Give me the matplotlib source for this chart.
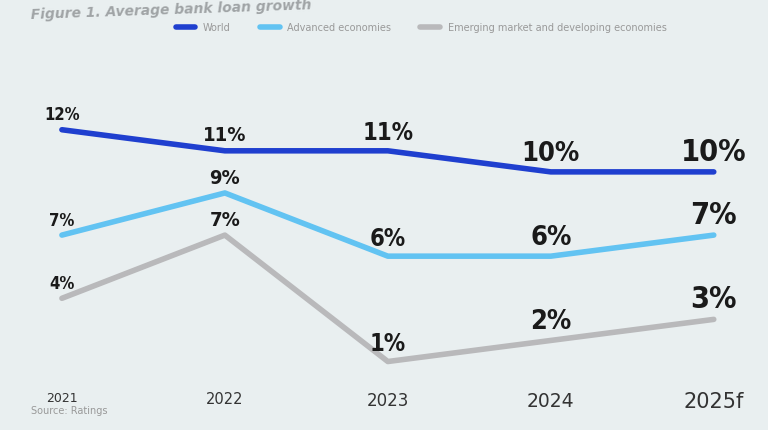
import matplotlib
matplotlib.use("Agg")
import matplotlib.pyplot as plt

years = ["2021", "2022", "2023", "2024", "2025f"]
world = [12, 11, 11, 10, 10]
advanced = [7, 9, 6, 6, 7]
emerging = [4, 7, 1, 2, 3]

series = [
    ("World", world, "#1f3fcf"),
    ("Advanced economies", advanced, "#62c3f2"),
    ("Emerging market and developing economies", emerging, "#b9b9bb"),
]

fig = plt.figure(figsize=(7.68, 4.31), dpi=100)
fig.patch.set_facecolor("#e9eff0")
ax = fig.add_axes([0.07, 0.11, 0.87, 0.66])
ax.set_facecolor("#e9eff0")

x = list(range(len(years)))
for name, vals, col in series:
    ax.plot(x, vals, color=col, lw=4, solid_capstyle="round", label=name)
    for i, v in enumerate(vals):
        size = 12 + i * 2.5
        ax.text(i, v + 0.3, f"{v}%", ha="center", va="bottom", fontsize=size,
                color="#1a1a1a", weight="bold", stretch="condensed")

ax.set_xlim(-0.05, 4.05)
ax.set_ylim(0, 13.5)
ax.set_xticks(x)
ax.set_xticklabels(years)
for i, lab in enumerate(ax.get_xticklabels()):
    lab.set_fontsize(9 + i * 1.5)
    lab.set_color("#333333")
ax.tick_params(length=0, pad=6)
ax.set_yticks([])
for s in ax.spines.values():
    s.set_visible(False)

fig.text(0.04, 0.955, "Figure 1. Average bank loan growth", fontsize=10, color="#a0a4a6",
         style="italic", weight="bold", rotation=2)
ax.legend(loc="lower center", bbox_to_anchor=(0.55, 1.2), ncol=3, frameon=False,
          fontsize=7, labelcolor="#999999", handlelength=2, columnspacing=3)
fig.text(0.04, 0.04, "Source: Ratings", fontsize=7, color="#999999")

fig.savefig("out.png", dpi=100, facecolor=fig.get_facecolor())
